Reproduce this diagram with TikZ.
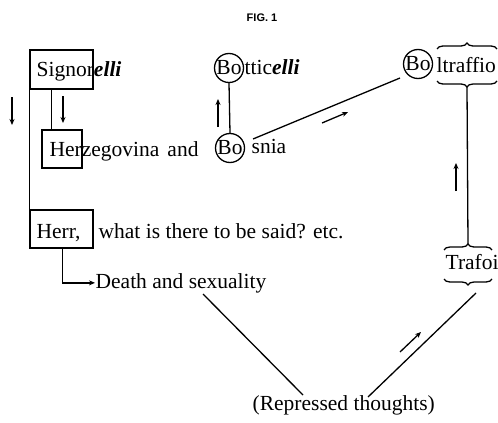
\documentclass[tikz,border=0pt]{standalone}
\usepackage{fontspec}
\setmainfont{Liberation Serif}
\setsansfont{Liberation Sans}
\usetikzlibrary{arrows.meta,decorations.pathreplacing}
\begin{document}
\begin{tikzpicture}[x=1pt,y=-1pt,line width=1.3pt,
  txt/.style={inner sep=0pt,anchor=base west,font=\fontsize{21.5}{25}\selectfont},
  boxn/.style={draw,inner sep=0pt},
  circ/.style={draw,circle,inner sep=0pt,minimum size=29pt,font=\fontsize{21.5}{25}\selectfont},
  arr/.style={-{Stealth[length=6pt,width=5pt]}},
  brc/.style={decorate,decoration={brace,amplitude=6pt}}]
\useasboundingbox[fill=white] (0,0) rectangle (498,423);
% title
\node[font=\sffamily\bfseries\fontsize{11}{13}\selectfont] (fig) at (262,18) {FIG. 1};
% Signorelli
\node[boxn,minimum width=63pt,minimum height=39pt] (sbox) at (61.5,69.5) {};
\node[txt] (sig) at (36,76) {Signor\textbf{\textit{elli}}};
% Herzegovina
\node[boxn,minimum width=40pt,minimum height=38pt] (hbox) at (62,149) {};
\node[txt] (herz) at (49,156) {Herzegovina\hspace{8pt}and};
% Herr
\node[boxn,minimum width=63pt,minimum height=38pt] (rbox) at (61.5,229) {};
\node[txt] (herr) at (36,238) {Herr,};
\node[txt] (what) at (98,238) {what is there to be said? etc.};
% Death
\node[txt] (death) at (95,288) {Death and sexuality};
% Bosnia / Botticelli / Boltraffio
\node[circ] (bo1) at (230,148) {Bo};
\node[txt] (snia) at (251,153) {snia};
\node[circ] (bo2) at (229,68) {Bo};
\node[txt] (tti) at (244,74) {ttic\textbf{\textit{elli}}};
\node[circ] (bo3) at (418,64) {Bo};
\node[txt] (ltr) at (436,72) {ltraffio};
% Trafoi
\node[txt] (tra) at (445,269) {Trafoi};
% Repressed
\node[txt] (rep) at (252,410) {(Repressed thoughts)};
% connectors
\draw (sbox.south west) -- (rbox.north west);
\draw ([xshift=10pt]hbox.north west) -- ([xshift=10pt]hbox.north west |- sbox.south);
\draw[arr] ([xshift=1pt]rbox.south) |- (death.west);
\draw (bo1.north) -- (bo2.south);
\coordinate (bsn) at (253,139);
\coordinate (btr) at (400,78);
\draw (bsn) -- (btr);
% braces
\draw[brc] (437,49) -- (497,49);
\draw[brc] (497,81) -- (437,81);
\draw[brc] (444,250) -- (492,250);
\draw[brc] (492,279) -- (444,279);
\coordinate (vtop) at (467,87);
\coordinate (vbot) at (468,244);
\draw (vtop) -- (vbot);
\coordinate (tbot) at (476,293);
\coordinate (rtop) at (368,397);
\draw (tbot) -- (rtop);
\coordinate (dbot) at (203,294);
\coordinate (rl) at (303,395);
\draw (dbot) -- (rl);
% side arrows
\coordinate (a1s) at (12,97); \coordinate (a1e) at (12,125);
\draw[arr] (a1s) -- (a1e);
\coordinate (a2s) at (63,96); \coordinate (a2e) at (63,123);
\draw[arr] (a2s) -- (a2e);
\coordinate (a3s) at (218,127); \coordinate (a3e) at (218,99);
\draw[arr] (a3s) -- (a3e);
\coordinate (a4s) at (322,123); \coordinate (a4e) at (348,112);
\draw[arr] (a4s) -- (a4e);
\coordinate (a5s) at (456,191); \coordinate (a5e) at (456,163);
\draw[arr] (a5s) -- (a5e);
\coordinate (a6s) at (400,352); \coordinate (a6e) at (421,332);
\draw[arr] (a6s) -- (a6e);
\end{tikzpicture}
\end{document}
